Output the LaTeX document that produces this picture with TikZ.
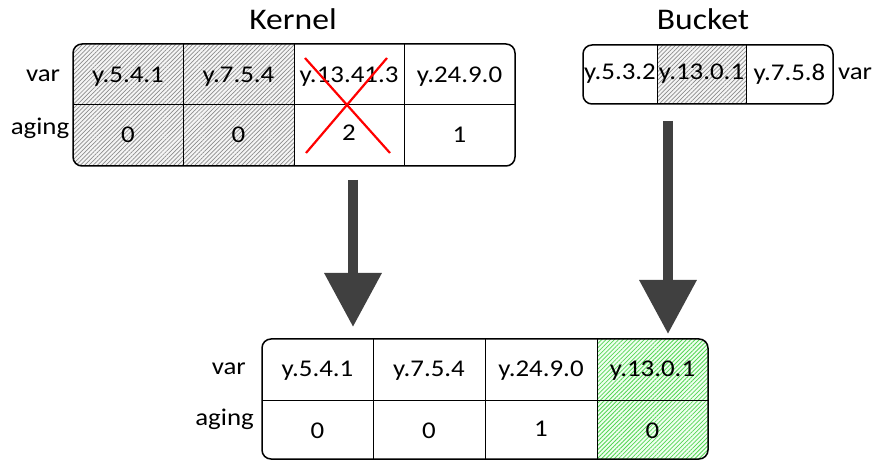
\documentclass[tikz,border=0pt]{standalone}
\usepackage{fontspec}
\setmainfont{Carlito}[FakeStretch=1.12]
\usetikzlibrary{patterns.meta,arrows.meta}
\definecolor{arrowgray}{HTML}{404040}
\definecolor{hatchgreen}{HTML}{55D655}
\tikzset{
  celltxt/.style={inner sep=0pt, font=\fontsize{24}{27}\selectfont},
  lbl/.style={inner sep=0pt, font=\fontsize{24}{27}\selectfont},
  ttl/.style={inner sep=0pt, font=\fontsize{30}{33}\selectfont},
  outer/.style={draw=black, line width=1.5pt, rounded corners=9pt},
  inner/.style={draw=black, line width=1pt},
  greyhatch/.style={pattern={Lines[angle=45,distance=3pt,line width=0.7pt]}, pattern color=gray!90},
  greenhatch/.style={pattern={Lines[angle=45,distance=3pt,line width=0.8pt]}, pattern color=hatchgreen},
  blockarrow/.style={draw=arrowgray, line width=10pt, -{Triangle[width=55pt,length=54pt]}},
  cross/.style={draw=red, line width=2.2pt}
}
\begin{document}
\begin{tikzpicture}[x=1pt,y=-1pt]
\useasboundingbox (0,0) rectangle (873,462);
% ---------------- Kernel ----------------
\node[ttl] (kt) at (293,19) {Kernel};
\begin{scope}
  \clip[rounded corners=9pt] (73,44) rectangle (515,166);
  \fill[white] (73,44) rectangle (515,166);
  \fill[gray!8] (73,44) rectangle (294,166);
  \fill[greyhatch] (73,44) rectangle (294,166);
\end{scope}
\draw[inner] (73,105) -- (515,105);
\draw[inner] (183,44) -- (183,166);
\draw[inner] (294,44) -- (294,166);
\draw[inner] (404,44) -- (404,166);
\draw[outer] (73,44) rectangle (515,166);
\node[lbl] (kvar) at (43,76) {var};
\node[lbl] (kaging) at (40,128) {aging};
\node[celltxt] (k11) at (128,77) {y.5.4.1};
\node[celltxt] (k12) at (238.5,77) {y.7.5.4};
\node[celltxt] (k13) at (349,77) {y.13.41.3};
\node[celltxt] (k14) at (459.5,77) {y.24.9.0};
\node[celltxt] (k21) at (128,135) {0};
\node[celltxt] (k22) at (238.5,135) {0};
\node[celltxt] (k23) at (349,133) {2};
\node[celltxt] (k24) at (459.5,135) {1};
\coordinate (x1) at (305,58);
\coordinate (x2) at (390,153);
\coordinate (x3) at (387,58);
\coordinate (x4) at (306,153);
\draw[cross] (x1) -- (x2);
\draw[cross] (x3) -- (x4);
% ---------------- Bucket ----------------
\node[ttl] (bt) at (703,19) {Bucket};
\begin{scope}
  \clip[rounded corners=9pt] (583,45) rectangle (833,104);
  \fill[white] (583,45) rectangle (833,104);
  \fill[gray!8] (657,45) rectangle (746,104);
  \fill[greyhatch] (657,45) rectangle (746,104);
\end{scope}
\draw[inner] (657,45) -- (657,104);
\draw[inner] (746,45) -- (746,104);
\draw[outer] (583,45) rectangle (833,104);
\node[celltxt] (b1) at (620,74) {y.5.3.2};
\node[celltxt] (b2) at (701.5,74) {y.13.0.1};
\node[celltxt] (b3) at (789.5,74) {y.7.5.8};
\node[lbl] (bvar) at (855,74) {var};
% ---------------- Arrows ----------------
\coordinate (a1s) at (353,180);
\coordinate (a1e) at (353,327);
\coordinate (a2s) at (668,121);
\coordinate (a2e) at (668,334);
\draw[blockarrow] (a1s) -- (a1e);
\draw[blockarrow] (a2s) -- (a2e);
% ---------------- Result ----------------
\begin{scope}
  \clip[rounded corners=9pt] (262,339) rectangle (708,459);
  \fill[white] (262,339) rectangle (708,459);
  \fill[green!6] (597,339) rectangle (708,459);
  \fill[greenhatch] (597,339) rectangle (708,459);
\end{scope}
\draw[inner] (262,400) -- (708,400);
\draw[inner] (373,339) -- (373,459);
\draw[inner] (485,339) -- (485,459);
\draw[inner] (597,339) -- (597,459);
\draw[outer] (262,339) rectangle (708,459);
\node[lbl, anchor=east] (rvar) at (246,369) {var};
\node[lbl, anchor=east] (raging) at (254,419) {aging};
\node[celltxt] (r11) at (317.5,371) {y.5.4.1};
\node[celltxt] (r12) at (429,371) {y.7.5.4};
\node[celltxt] (r13) at (541,371) {y.24.9.0};
\node[celltxt] (r14) at (652.5,371) {y.13.0.1};
\node[celltxt] (r21) at (317.5,431) {0};
\node[celltxt] (r22) at (429,431) {0};
\node[celltxt] (r23) at (541,429) {1};
\node[celltxt] (r24) at (652.5,431) {0};
\end{tikzpicture}
\end{document}
